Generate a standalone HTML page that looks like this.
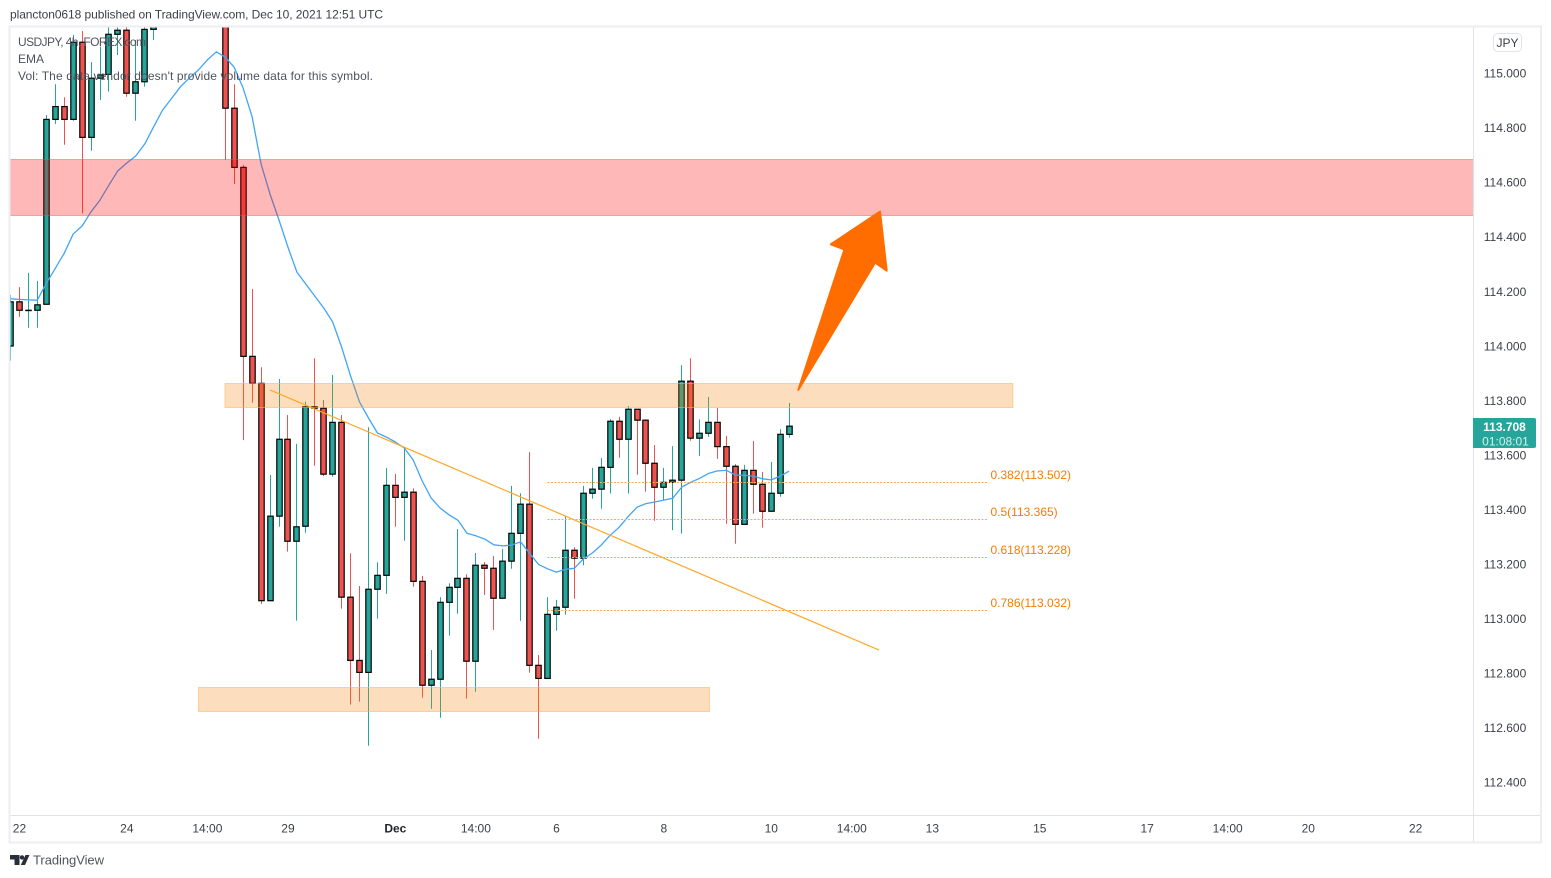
<!DOCTYPE html>
<html lang="en">
<head>
<meta charset="utf-8">
<title>USDJPY 4h chart</title>
<style>
html,body{margin:0;padding:0;background:#fff;width:1551px;height:878px;overflow:hidden}
svg{display:block;font-family:"Liberation Sans",Arial,sans-serif}
</style>
</head>
<body>
<svg id="chart" xmlns="http://www.w3.org/2000/svg" width="1551" height="878" viewBox="0 0 1551 878">
  <defs>
    <clipPath id="pane"><rect x="10" y="27" width="1463" height="788"/></clipPath>
  </defs>
  <rect x="0" y="0" width="1551" height="878" fill="#ffffff"/>
  <g id="marks" clip-path="url(#pane)"></g>
  <g id="drawings" clip-path="url(#pane)"></g>
  <g id="xaxis"></g>
  <g id="yaxis"></g>

  <path d="M1473.5 27V843" stroke="#e0e3eb" stroke-width="1" fill="none"/>
  <path d="M10 815.5H1541" stroke="#e0e3eb" stroke-width="1" fill="none"/>
  <rect x="9.5" y="26.5" width="1531.5" height="816" fill="none" stroke="#eceef3" stroke-width="2"/>

  <text x="10" y="18.5" font-size="12" fill="#3c3f4a" textLength="373" lengthAdjust="spacing">plancton0618 published on TradingView.com, Dec 10, 2021 12:51 UTC</text>

  <text x="18" y="46" font-size="12" fill="#50535e" textLength="128" lengthAdjust="spacing">USDJPY, 4h, FOREX.com</text>
  <text x="18" y="63" font-size="12" fill="#50535e">EMA</text>
  <text x="18" y="80" font-size="12" fill="#50535e" textLength="355" lengthAdjust="spacing">Vol: The data vendor doesn't provide volume data for this symbol.</text>

  <rect x="1493.5" y="33.5" width="28" height="18" rx="4" fill="#ffffff" stroke="#e0e3eb"/>
  <text x="1507.5" y="46.8" font-size="12" fill="#3c3f4a" text-anchor="middle">JPY</text>

  <path d="M1473 418H1534a2 2 0 0 1 2 2V446a2 2 0 0 1 -2 2H1473Z" fill="#26a69a"/>
  <text x="1504.5" y="431" font-size="12" font-weight="bold" fill="#ffffff" text-anchor="middle">113.708</text>
  <text x="1505.5" y="445.5" font-size="12" fill="#d4efec" text-anchor="middle">01:08:01</text>

  <g>
    <path d="M10 855H19.5V865H14.5V859.5H10Z M22 855.2a2.2 2.2 0 1 1 0 4.4a2.2 2.2 0 0 1 0-4.4Z M25.5 855H29.5L25 865H20.8Z" fill="#2a2e39"/>
    <text x="33" y="864.5" font-size="13" fill="#50535e" textLength="71" lengthAdjust="spacing">TradingView</text>
  </g>
</svg>
<script>
// Candle data (USDJPY 4h), one entry per bar
const opens  = [114.000,114.162,114.131,114.131,114.153,114.831,114.878,114.831,115.114,114.765,114.982,114.996,115.143,115.158,114.927,114.969,115.161,115.200,115.280,115.360,115.340,115.410,115.380,115.440,115.400,114.872,114.655,113.962,113.863,113.066,113.376,113.658,113.284,113.339,113.777,113.772,113.530,113.720,113.079,112.847,112.803,113.108,113.159,113.489,113.445,113.464,113.137,112.756,112.778,113.060,113.115,113.148,112.844,113.196,113.185,113.075,113.211,113.313,113.420,112.829,112.781,113.016,113.042,113.251,113.222,113.460,113.475,113.555,113.724,113.658,113.768,113.728,113.570,113.482,113.500,113.508,113.871,113.662,113.680,113.720,113.631,113.559,113.346,113.544,113.493,113.394,113.460,113.676];
const highs  = [114.187,114.216,114.268,114.238,114.847,114.960,114.912,115.140,115.155,115.041,115.098,115.200,115.200,115.200,115.122,115.200,115.220,115.320,115.400,115.420,115.450,115.500,115.480,115.520,115.450,114.960,114.664,114.209,113.922,113.527,113.879,113.747,113.641,113.796,113.955,113.802,113.894,113.747,113.240,113.120,113.702,113.207,113.553,113.531,113.630,113.478,113.157,112.885,113.079,113.130,113.329,113.163,113.241,113.208,113.230,113.256,113.487,113.460,113.611,112.867,113.079,113.069,113.374,113.262,113.487,113.553,113.589,113.732,113.740,113.780,113.768,113.731,113.637,113.553,113.633,113.930,113.955,113.731,113.813,113.773,113.670,113.567,113.564,113.652,113.538,113.575,113.695,113.791];
const lows   = [113.946,114.107,114.067,114.067,114.153,114.814,114.738,114.826,114.487,114.716,114.902,114.933,115.067,114.914,114.826,114.951,115.122,115.180,115.220,115.300,115.280,115.330,115.300,115.360,114.682,114.594,113.655,113.792,113.054,113.066,113.337,113.246,112.993,113.315,113.561,113.523,113.521,113.037,112.685,112.696,112.534,113.000,113.091,113.337,113.286,113.117,112.710,112.670,112.637,112.938,113.018,112.707,112.732,113.087,112.959,113.075,113.183,112.992,112.802,112.560,112.781,112.956,113.015,113.073,113.196,113.440,113.403,113.459,113.590,113.459,113.528,113.466,113.359,113.434,113.325,113.312,113.653,113.597,113.667,113.586,113.348,113.275,113.346,113.385,113.334,113.394,113.447,113.664];
const closes = [114.162,114.131,114.131,114.151,114.831,114.878,114.831,115.114,114.765,114.982,114.994,115.143,115.158,114.927,114.969,115.161,115.180,115.280,115.360,115.340,115.410,115.380,115.440,115.400,114.872,114.655,113.962,113.863,113.066,113.376,113.658,113.284,113.337,113.777,113.772,113.530,113.720,113.079,112.847,112.803,113.108,113.159,113.489,113.445,113.464,113.137,112.756,112.778,113.060,113.115,113.148,112.844,113.196,113.185,113.075,113.211,113.313,113.420,112.829,112.781,113.016,113.042,113.251,113.222,113.460,113.475,113.555,113.724,113.658,113.768,113.728,113.570,113.482,113.500,113.508,113.871,113.662,113.680,113.720,113.631,113.559,113.346,113.544,113.493,113.394,113.460,113.676,113.706];
// EMA series
const emaValues = [114.173,114.171,114.169,114.168,114.230,114.285,114.340,114.410,114.440,114.492,114.535,114.590,114.643,114.671,114.697,114.741,114.804,114.865,114.908,114.951,114.983,115.012,115.049,115.079,115.059,115.022,114.945,114.841,114.667,114.557,114.462,114.363,114.271,114.227,114.183,114.139,114.088,113.996,113.890,113.795,113.736,113.681,113.666,113.648,113.626,113.582,113.505,113.443,113.406,113.381,113.361,113.313,113.304,113.292,113.271,113.267,113.270,113.282,113.240,113.199,113.183,113.171,113.181,113.185,113.219,113.241,113.270,113.306,113.335,113.374,113.409,113.422,113.428,113.435,113.442,113.483,113.500,113.515,113.533,113.542,113.544,113.527,113.526,113.523,113.513,113.509,113.523,113.541];
// Axis ticks
const priceTicks = ["115.000","114.800","114.600","114.400","114.200","114.000","113.800","113.600","113.400","113.200","113.000","112.800","112.600","112.400"];
const timeTickBars = [1,13,22,31,43,52,61,73,85,94,103,115,127,136,145,157];
const timeTickLabels = ["22","24","14:00","29","Dec","14:00","6","8","10","14:00","13","15","17","14:00","20","22"];
// Drawings, in bar index / price terms
const zoneBars = [-1,170,23.96,112,21,78.1];
const zonePrices = [114.685,114.482,113.863,113.776,112.750,112.662];
const trendBars = [29,97.04];
const trendPrices = [113.839,112.885];
const fibLevels = ["0.382","0.5","0.618","0.786"];
const fibPrices = [113.502,113.365,113.228,113.032];
const fibStartBar = 60;
const fibEndBar = 109.1;
const arrowBars = [88.02,93.17,91.65,97.15,97.9,96.6];
const arrowPrices = [113.839,114.354,114.373,114.493,114.276,114.306];

const X0 = 10.5, STEP = 8.95, Y115 = 73.3, PX_PER_UNIT = 272.7;
function xAt(i){ return X0 + STEP * i; }
function yAt(p){ return Y115 + (115 - p) * PX_PER_UNIT; }

const NS = "http://www.w3.org/2000/svg";
const UP = "#26a69a", DOWN = "#ef5350";
function mk(tag, parent, attrs){
  const el = document.createElementNS(NS, tag);
  for (const k in attrs) el.setAttribute(k, attrs[k]);
  parent.appendChild(el);
  return el;
}
const marks = document.getElementById("marks");
const drawings = document.getElementById("drawings");
const xaxis = document.getElementById("xaxis");
const yaxis = document.getElementById("yaxis");

// Candles
opens.forEach(function(o, i){
  const c = closes[i], x = Math.floor(xAt(i)) + 0.5, up = c >= o, col = up ? UP : DOWN;
  const g = mk("g", marks, {});
  
  
  const wick = mk("line", g, {x1:x, x2:x, y1:yAt(highs[i]), y2:yAt(lows[i]), stroke:col, "stroke-width":1});
  
  
  const top = yAt(Math.max(o, c)), bottom = yAt(Math.min(o, c));
  const body = mk("rect", g, {x:x - 2.7, y:top, width:5.4, height:Math.max(bottom - top, 0.3), fill:col, stroke:"#000000", "stroke-width":1.2});
  
  
});

// EMA line
const emaPts = emaValues.map(function(v, i){ return xAt(i).toFixed(1) + "," + yAt(v).toFixed(1); }).join(" ");
const ema = mk("polyline", marks, {points:emaPts, fill:"none", stroke:"#42a5f5", "stroke-width":1.3, "stroke-linejoin":"round"});



// Zones
const zoneNames = ["resistance-zone-red","supply-zone-orange","demand-zone-orange"];
const zoneFill = ["rgba(255,0,0,0.28)","rgba(245,124,0,0.25)","rgba(245,124,0,0.25)"];
const zoneStroke = ["rgba(240,80,80,0.45)","rgba(255,183,77,0.55)","rgba(255,183,77,0.55)"];
for (let z = 0; z < 3; z++){
  const x1 = xAt(zoneBars[z * 2]), x2 = xAt(zoneBars[z * 2 + 1]);
  const y1 = Math.round(yAt(zonePrices[z * 2])) + 0.5, y2 = Math.round(yAt(zonePrices[z * 2 + 1])) + 0.5;
  const zr = mk("rect", drawings, {x:x1, y:y1, width:x2 - x1, height:y2 - y1, fill:zoneFill[z], stroke:zoneStroke[z], "stroke-width":1});
  
  
}

// Trend line
const trend = mk("line", drawings, {x1:xAt(trendBars[0]), y1:yAt(trendPrices[0]), x2:xAt(trendBars[1]), y2:yAt(trendPrices[1]), stroke:"#ffa726", "stroke-width":1.2});



// Fibonacci levels
fibLevels.forEach(function(level, i){
  const p = fibPrices[i], y = Math.round(yAt(p)) + 0.5;
  const line = mk("line", drawings, {x1:xAt(fibStartBar), x2:xAt(fibEndBar), y1:y, y2:y, stroke:"#ffa94d", "stroke-width":1, "stroke-dasharray":"2 1.5"});
  
  
  const t = mk("text", drawings, {x:990.5, y:y - 3.5, "font-size":12, fill:"#f57c00"});
  
  
  t.textContent = level + "(" + p.toFixed(3) + ")";
});

// Arrow
const arrowPts = arrowBars.map(function(b, i){ return xAt(b).toFixed(1) + "," + yAt(arrowPrices[i]).toFixed(1); }).join(" ");
const arrow = mk("polygon", drawings, {points:arrowPts, fill:"#ff6d00", stroke:"#ff6d00", "stroke-width":2, "stroke-linejoin":"round"});



// Price axis labels
priceTicks.forEach(function(label){
  const t = mk("text", yaxis, {x:1505, y:yAt(parseFloat(label)) + 4.3, "font-size":12, fill:"#3c3f4a", "text-anchor":"middle"});
  
  
  t.textContent = label;
});

// Time axis labels
timeTickBars.forEach(function(b, i){
  const isMonth = timeTickLabels[i] === "Dec";
  const t = mk("text", xaxis, {x:xAt(b), y:832.5, "font-size":12, fill:isMonth ? "#1f222b" : "#3c3f4a", "font-weight":isMonth ? "bold" : "normal", "text-anchor":"middle"});
  
  
  t.textContent = timeTickLabels[i];
});
</script>
</body>
</html>
